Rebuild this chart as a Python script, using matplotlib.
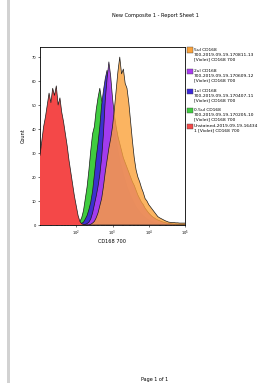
import numpy as np
import matplotlib
matplotlib.use("Agg")
import matplotlib.pyplot as plt
from matplotlib.patches import Rectangle

# ---------------- data ----------------
# log10 positions of the histogram grid (CD168 700 intensity)
log_grid = np.linspace(1.0, 5.0, 81)

red_counts = [29, 35, 41, 45, 50, 55, 51, 57, 54, 58, 50, 53, 47, 43, 38, 33, 27, 22, 17, 12,
              8, 4, 1.5, 0.5, 0.2, 0, 0, 0, 0, 0, 0, 0, 0, 0, 0, 0, 0, 0, 0, 0,
              0, 0, 0, 0, 0, 0, 0, 0, 0, 0, 0, 0, 0, 0, 0, 0, 0, 0, 0, 0,
              0, 0, 0, 0, 0, 0, 0, 0, 0, 0, 0, 0, 0, 0, 0, 0, 0, 0, 0, 0, 0]
green_counts = [0, 0, 0, 0, 0, 0, 0, 0, 0, 0, 0, 0, 0, 0, 0, 0, 0, 0, 0, 0,
                0.3, 0.7, 1.5, 3, 6, 11, 16, 23, 31, 38, 41, 48, 53, 57, 52, 50, 44, 40, 35, 32,
                28, 25, 22, 20, 17, 15, 13, 11, 10, 8.5, 7, 6, 5, 4.2, 3.5, 3, 2.4, 2, 1.6, 1.3,
                1, 0.8, 0.6, 0.5, 0.4, 0.3, 0.2, 0.2, 0.1, 0, 0, 0, 0, 0, 0, 0, 0, 0, 0, 0, 0]
blue_counts = [0, 0, 0, 0, 0, 0, 0, 0, 0, 0, 0, 0, 0, 0, 0, 0, 0, 0, 0, 0,
               0, 0, 0.3, 0.7, 1.2, 2.5, 4, 6.5, 9.5, 14, 21, 28, 34, 41, 50, 56, 61, 64.5, 58, 52,
               45, 40, 35, 31, 27, 24, 21, 18.5, 16, 14, 12, 10.5, 9, 7.5, 6.5, 5.5, 4.6, 3.8, 3.2, 2.6,
               2.1, 1.7, 1.4, 1.1, 0.9, 0.7, 0.6, 0.5, 0.4, 0.3, 0.2, 0.2, 0.1, 0, 0, 0, 0, 0, 0, 0, 0]
purple_counts = [0, 0, 0, 0, 0, 0, 0, 0, 0, 0, 0, 0, 0, 0, 0, 0, 0, 0, 0, 0,
                 0, 0, 0, 0, 0, 0.3, 0.6, 1.2, 2.5, 5, 8.5, 12, 16, 21, 28, 38, 52, 61, 68, 62,
                 53, 46, 41, 37, 34, 31, 28, 26, 24, 22, 20, 18, 16.5, 14.5, 12.5, 11, 9.5, 8.5, 7, 6,
                 5, 4.2, 3.5, 3, 2.5, 2.1, 1.8, 1.5, 1.2, 1.0, 0.8, 0.7, 0.6, 0.5, 0.4, 0.4, 0.3, 0.3, 0.2, 0.2, 0.2]
orange_counts = [0, 0, 0, 0, 0, 0, 0, 0, 0, 0, 0, 0, 0, 0, 0, 0, 0, 0, 0, 0,
                 0, 0, 0, 0, 0, 0, 0, 0, 0.3, 0.8, 1.5, 3, 5, 8, 11, 16, 22, 27, 32, 36,
                 41, 48, 56, 64, 70, 63, 65, 59, 57, 51, 43, 35, 28, 23, 20, 18, 15.5, 13.5, 11, 10,
                 8.5, 7.5, 6.5, 5.5, 4.5, 3.5, 3, 2.6, 2.2, 1.8, 1.5, 1.2, 1.1, 1.0, 1.0, 0.9, 0.9, 0.8, 0.8, 0.8, 0.8]

series_labels = [
    "5ul CD168\n700-2019-09-19-170811-13\n[Violet] CD168 700",
    "2ul CD168\n700-2019-09-19-170609-12\n[Violet] CD168 700",
    "1ul CD168\n700-2019-09-19-170407-11\n[Violet] CD168 700",
    "0.5ul CD168\n700-2019-09-19-170205-10\n[Violet] CD168 700",
    "Unstained-2019-09-19-16434\n1 [Violet] CD168 700",
]
y_ticks = [0, 10, 20, 30, 40, 50, 60, 70]
x_ticks = [1e2, 1e3, 1e4, 1e5]

title = "New Composite 1 - Report Sheet 1"
x_label = "CD168 700"
y_label = "Count"
footer = "Page 1 of 1"

# ---------------- figure ----------------
W, H = 269, 383
fig = plt.figure(figsize=(W / 100, H / 100), dpi=100)
fig.patch.set_facecolor("white")

# left gray page strip
fig.add_artist(Rectangle((7 / W, 0), 3 / W, 1, transform=fig.transFigure,
                         facecolor="#d2d2d2", edgecolor="none"))

ax = fig.add_axes([40 / W, 1 - 225 / H, 145 / W, 178 / H])
x = 10 ** log_grid

color_list = ["#fba23a", "#a83cf0", "#3c28d8", "#40cc40", "#f44848"]  # legend order

def draw(counts, col, alpha, z):
    ax.fill_between(x, 0, counts, facecolor=col, alpha=alpha, edgecolor="none", zorder=z)
    ax.plot(x, counts, color="#1a1a1a", lw=0.5, zorder=z + 0.1)

draw(green_counts, color_list[3], 1.0, 2)
draw(blue_counts, color_list[2], 0.95, 3)
draw(purple_counts, color_list[1], 0.95, 4)
draw(orange_counts, color_list[0], 0.8, 5)
draw(red_counts, color_list[4], 1.0, 6)

ax.set_xscale("log")
ax.set_xlim(10, 1e5)
ax.set_ylim(0, 74.2)
ax.set_xticks(x_ticks)
ax.set_yticks(y_ticks)
ax.tick_params(axis="both", which="major", labelsize=2.6, length=1.5, width=0.4, pad=1)
ax.tick_params(axis="both", which="minor", length=0.8, width=0.3)
for s in ax.spines.values():
    s.set_linewidth(0.6)

ax.set_xlabel(x_label, fontsize=3.6, labelpad=1)
ax.set_ylabel(y_label, fontsize=3.6, labelpad=4)

fig.text(155 / W, 1 - 15 / H, title, ha="center", va="center", fontsize=3.6)
fig.text(155 / W, 1 - 380 / H, footer, ha="center", va="center", fontsize=3.5)

# legend drawn entry by entry (square aligned with first text line)
entry_tops = [50, 71, 91, 110, 126]   # pixel rows of first text line
line_step = 4.8
for lab, col, top in zip(series_labels, color_list, entry_tops):
    fig.add_artist(Rectangle((187 / W, 1 - (top + 3) / H), 5.5 / W, 5.5 / H,
                             transform=fig.transFigure, facecolor=col,
                             edgecolor="#444444", linewidth=0.3))
    for k, line in enumerate(lab.split("\n")):
        fig.text(194 / W, 1 - (top + k * line_step) / H, line,
                 ha="left", va="center", fontsize=3.2)

fig.savefig("out.png", dpi=100, facecolor="white")
